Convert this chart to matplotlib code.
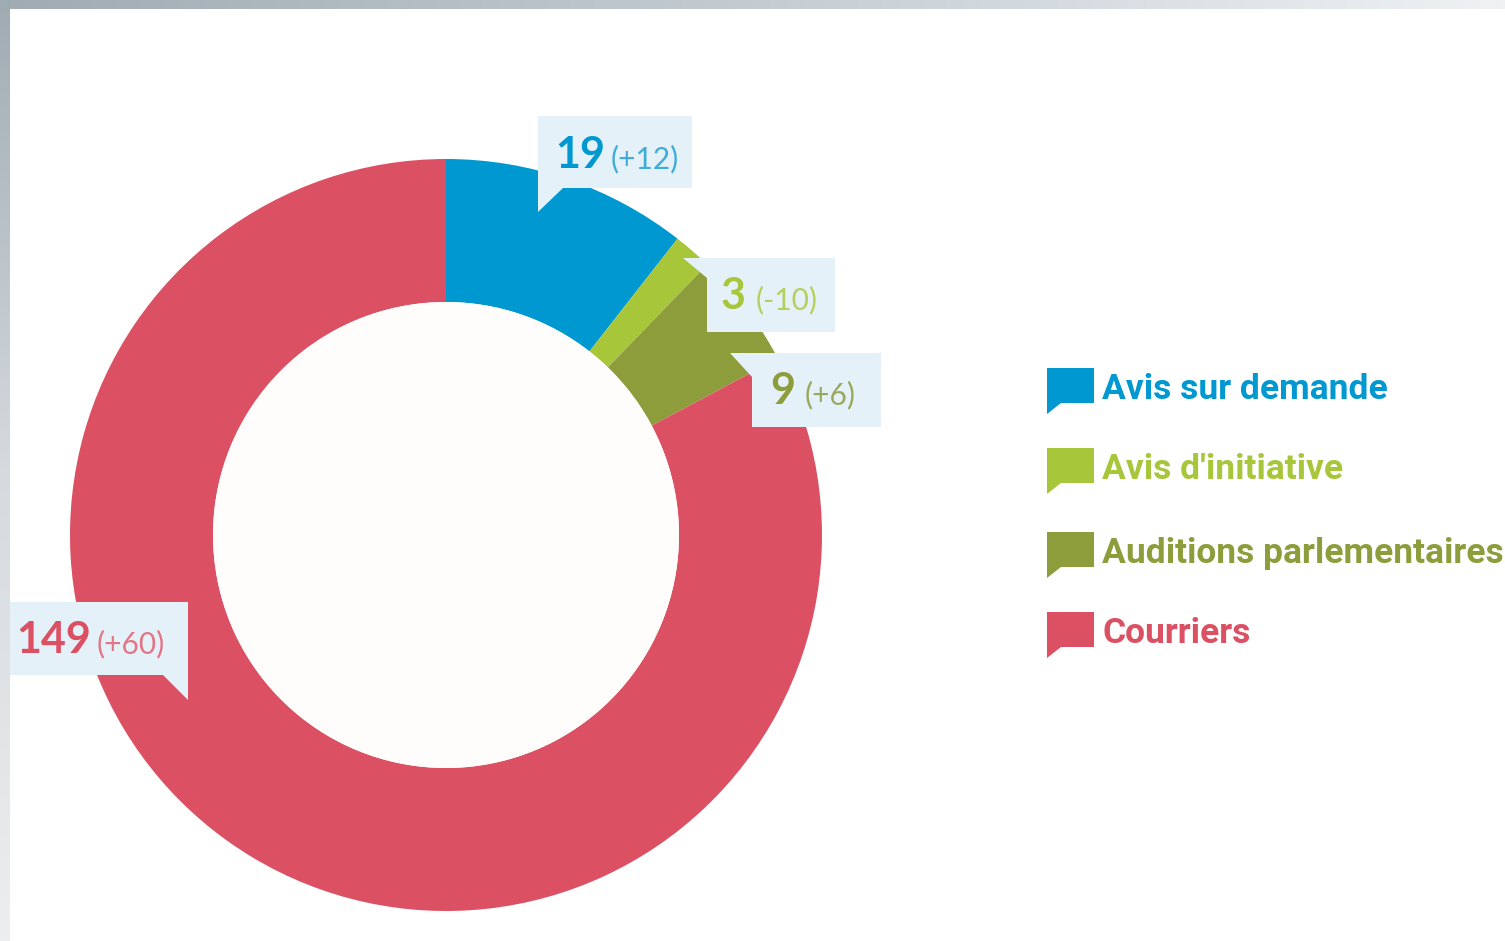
import numpy as np
import matplotlib
matplotlib.use("Agg")
import matplotlib.pyplot as plt
from matplotlib.patches import Polygon, Circle
from matplotlib import font_manager

# data
categories = ["Avis sur demande", "Avis d'initiative", "Auditions parlementaires", "Courriers"]
values = [19, 3, 9, 149]
changes = ["(+12)", "(-10)", "(+6)", "(+60)"]

colors = ["#0098d0", "#a8c63a", "#8e9d3b", "#dc5063"]
light_colors = ["#40acd9", "#b5d05c", "#9aa85c", "#e27586"]
box_color = "#e5f1f9"

W, H = 1505, 941

names = {f.name for f in font_manager.fontManager.ttflist}
legend_font = "Liberation Sans Narrow" if "Liberation Sans Narrow" in names else "Roboto"
legend_size = 27 if legend_font == "Liberation Sans Narrow" else 25.5


def fy(y):
    # image rows go down, axes go up
    return H - y


fig = plt.figure(figsize=(W / 100, H / 100), dpi=100)
ax = fig.add_axes([0, 0, 1, 1])

# donut
cx, cy, r_out, r_in = 446, 535, 376, 233
ax.pie(values, colors=colors, startangle=90, counterclock=False,
       radius=r_out, center=(cx, fy(cy)),
       wedgeprops=dict(width=r_out - r_in, linewidth=0))
ax.add_patch(Circle((cx, fy(cy)), r_in, color="#fffdfb", lw=0, zorder=2))

# callout boxes: rectangle + tail triangle, in image pixels
label_boxes = [
    [(538, 116), (692, 116), (692, 188), (563, 188), (538, 212), (538, 188)],
    [(683, 258), (835, 258), (835, 332), (707, 332), (707, 278)],
    [(730, 353), (881, 353), (881, 427), (752, 427), (752, 377)],
    [(10, 602), (188, 602), (188, 700), (163, 675), (10, 675)],
]
# text anchor (x of number, baseline y, x of change)
label_pos = [(555, 168, 611), (721, 309, 756), (770, 404, 805), (16, 653, 97)]

for i, pts in enumerate(label_boxes):
    ax.add_patch(Polygon([(x, fy(y)) for x, y in pts], closed=True,
                         facecolor=box_color, edgecolor="none", zorder=4))
    xn, yb, xc = label_pos[i]
    ax.text(xn, fy(yb), str(values[i]), family="Lato", weight="bold",
            fontsize=31, color=colors[i], va="baseline", ha="left", zorder=5)
    ax.text(xc, fy(yb), changes[i], family="Lato", fontsize=21.5,
            color=light_colors[i], va="baseline", ha="left", zorder=5)

# legend with speech-bubble markers
leg_top = [368, 448, 532, 612]
for i, name in enumerate(categories):
    t = leg_top[i]
    marker = [(1047, t), (1094, t), (1094, t + 35), (1061, t + 35),
              (1047, t + 46), (1047, t + 35)]
    ax.add_patch(Polygon([(x, fy(y)) for x, y in marker], closed=True,
                         facecolor=colors[i], edgecolor="none", zorder=4))
    ax.text(1102, fy(t + 31), name, family=legend_font, weight="bold",
            fontsize=legend_size, color=colors[i], va="baseline", ha="left", zorder=5)

# grey frame strips on top and left
top_grad = np.linspace(0, 1, 256).reshape(1, -1)
ax.imshow(top_grad, extent=(0, W, fy(9), fy(0)), aspect="auto", zorder=6,
          cmap=matplotlib.colors.LinearSegmentedColormap.from_list(
              "t", ["#a0abb3", "#c4ccd2", "#eef2f5"]))
left_grad = np.linspace(0, 1, 256).reshape(-1, 1)
ax.imshow(left_grad, extent=(0, 10, fy(H), fy(0)), aspect="auto", zorder=6,
          origin="upper",
          cmap=matplotlib.colors.LinearSegmentedColormap.from_list(
              "l", ["#9fabb3", "#d5dade", "#eceef0"]))

ax.set_xlim(0, W)
ax.set_ylim(0, H)
ax.set_aspect("auto")
ax.axis("off")

fig.savefig("out.png", dpi=100, facecolor="white")
